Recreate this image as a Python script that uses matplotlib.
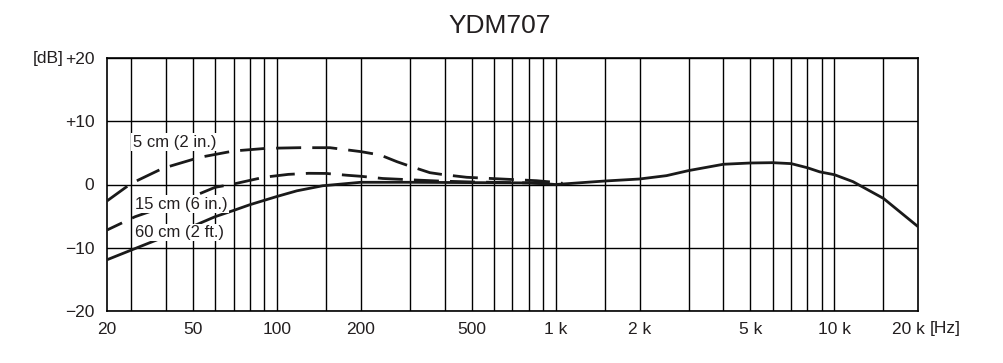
import matplotlib
matplotlib.use("Agg")
import matplotlib.pyplot as plt
from matplotlib.transforms import ScaledTranslation

plt.rcParams['font.family'] = ['Liberation Sans', 'DejaVu Sans']

# ---- data ----
title = "YDM707"
x_min, x_max = 24.6, 20000
y_min, y_max = -20, 20

grid_freqs = [30, 40, 50, 60, 70, 80, 90, 100, 150, 200, 300, 400, 500, 600, 700, 800, 900,
              1000, 1500, 2000, 3000, 4000, 5000, 6000, 7000, 8000, 9000, 10000, 15000]
xtick_pos = [24.6, 50, 100, 200, 500, 1000, 2000, 5000, 10000, 20000]
xtick_labels = ["20", "50", "100", "200", "500", "1 k", "2 k", "5 k", "10 k", "20 k"]
ytick_pos = [-20, -10, 0, 10, 20]
ytick_labels = ["\u221220", "\u221210", "0", "+10", "+20"]

f_60cm = [24.6, 32.8, 40, 50, 60, 70, 80, 100, 118, 146, 200, 300, 500, 800, 900, 1000,
          1500, 2000, 2500, 3000, 4000, 5000, 6000, 7000, 8000, 8860, 10000, 11660, 15000, 20000]
db_60cm = [-11.9, -9.7, -8.2, -6.6, -5.1, -4.1, -3.2, -1.9, -1.0, -0.2, 0.35, 0.35, 0.3, 0.25, 0.15, 0.0,
           0.55, 0.87, 1.4, 2.2, 3.2, 3.4, 3.45, 3.3, 2.65, 2.0, 1.55, 0.45, -2.2, -6.7]

f_15cm = [24.6, 31, 40, 50, 60, 70, 90, 110, 130, 150, 180, 200, 240, 300, 380, 500, 600, 800, 1000]
db_15cm = [-7.2, -5.1, -3.4, -1.9, -0.45, 0.08, 1.15, 1.6, 1.77, 1.75, 1.45, 1.3, 0.95, 0.75, 0.55, 0.4,
           0.35, 0.25, 0.05]

f_5cm = [24.6, 30, 39, 53, 70, 92, 121, 155, 200, 235, 270, 292, 354, 390, 480, 640, 855, 940, 1060]
db_5cm = [-2.6, 0.15, 2.56, 4.3, 5.3, 5.72, 5.82, 5.82, 5.2, 4.66, 3.6, 3.08, 1.87, 1.6, 1.14, 0.87,
          0.6, 0.44, 0.19]

labels = ["5 cm (2 in.)", "15 cm (6 in.)", "60 cm (2 ft.)"]
label_f = [30.4, 31.0, 31.0]
label_db = [6.7, -3.1, -7.6]

# ---- figure ----
W, H = 1004, 363
fig = plt.figure(figsize=(W / 100, H / 100), dpi=100)
ax = fig.add_axes([107 / W, 1 - 311 / H, (918.3 - 107) / W, (311 - 58) / H])
ax.set_xscale('log')
ax.set_xlim(x_min, x_max)
ax.set_ylim(y_min, y_max)

for f in grid_freqs:
    ax.axvline(f, color='black', lw=1.0, zorder=1)
for y in ytick_pos:
    ax.axhline(y, color='black', lw=1.0, zorder=1)

ax.set_xticks(xtick_pos)
ax.set_xticklabels(xtick_labels)
ax.xaxis.set_minor_locator(matplotlib.ticker.NullLocator())
ax.set_yticks(ytick_pos)
ax.set_yticklabels(ytick_labels)
ax.tick_params(axis='both', length=0, labelsize=12.5, colors='#231f20')
ax.tick_params(axis='x', pad=8)
ax.tick_params(axis='y', pad=9)
for s in ax.spines.values():
    s.set_linewidth(1.2)
    s.set_color('black')

# shift last x label left so "[Hz]" fits beside it
last = ax.get_xticklabels()[-1]
last.set_transform(last.get_transform() + ScaledTranslation(-10 / 100, 0, fig.dpi_scale_trans))

lw = 2.0
ax.plot(f_60cm, db_60cm, color='#1a1a1a', lw=lw, zorder=3, solid_capstyle='butt')
ax.plot(f_15cm, db_15cm, color='#1a1a1a', lw=lw, zorder=3, linestyle=(3, (9, 4)))
ax.plot(f_5cm, db_5cm, color='#1a1a1a', lw=lw, zorder=3, linestyle=(0, (9, 4)))

for t, fx, dy in zip(labels, label_f, label_db):
    ax.text(fx, dy, t, fontsize=12, color='#231f20', ha='left', va='center', zorder=5,
            bbox=dict(facecolor='white', edgecolor='none', pad=1.0))

fig.text(500 / W, 1 - 26 / H, title, fontsize=19, ha='center', va='center', color='#231f20')
fig.text(33 / W, 1 - 59 / H, "[dB]", fontsize=12.5, ha='left', va='center', color='#231f20')
fig.text(930 / W, 1 - 329 / H, "[Hz]", fontsize=12.5, ha='left', va='center', color='#231f20')

fig.savefig("out.png", dpi=100)
